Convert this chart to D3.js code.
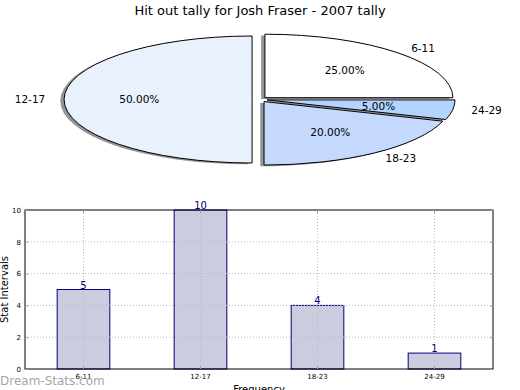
<!DOCTYPE html>
<html><head><meta charset="utf-8">
<script src="https://cdn.jsdelivr.net/npm/d3@7"></script>
<style>body{margin:0;background:#fff}svg{display:block;font-family:"DejaVu Sans",sans-serif}</style>
</head><body>
<script>
const categories = ["6-11","12-17","18-23","24-29"];
const values = [5,10,4,1];
const pieColors = ["#ffffff","#eaf1fe","#c5d9fe","#b3d4fe"];
const yTicks = [0,2,4,6,8,10];
const title = "Hit out tally for Josh Fraser - 2007 tally";

const W=520,H=390;
const svg=d3.select("body").append("svg").attr("width",W).attr("height",H);

svg.append("text").attr("x",260).attr("y",15).attr("text-anchor","middle")
  .attr("font-size",13).text(title);

// ---- pie ----
const cx=259.6, cy=99.5, rx=188, ry=63.5, explode=0.04;
const total=d3.sum(values);
let acc=0;
const wedges=values.map((v,i)=>{
  const t1=acc/total*2*Math.PI; acc+=v; const t2=acc/total*2*Math.PI;
  const mid=(t1+t2)/2;
  const ox=cx+explode*rx*Math.cos(mid), oy=cy-explode*ry*Math.sin(mid);
  return {i,v,t1,t2,mid,ox,oy};
});
const arc=d3.arc().innerRadius(0).outerRadius(1);
const gPie=svg.append("g");
wedges.forEach(w=>{
  gPie.append("path")
    .attr("d",arc({startAngle:Math.PI/2-w.t2,endAngle:Math.PI/2-w.t1}))
    .attr("transform",`translate(${w.ox-3.8},${w.oy+1.3}) scale(${rx},${ry})`)
    .attr("fill","#000").attr("fill-opacity",0.42).attr("stroke","none");
});
wedges.forEach(w=>{
  gPie.append("path")
    .attr("d",arc({startAngle:Math.PI/2-w.t2,endAngle:Math.PI/2-w.t1}))
    .attr("transform",`translate(${w.ox},${w.oy}) scale(${rx},${ry})`)
    .attr("fill",pieColors[w.i]).attr("stroke","#000").attr("stroke-width",1)
    .attr("vector-effect","non-scaling-stroke").attr("stroke-linejoin","round");
});
wedges.forEach(w=>{
  const c=Math.cos(w.mid), s=Math.sin(w.mid);
  gPie.append("text")
    .attr("x",w.ox+1.1*rx*c).attr("y",w.oy-1.1*ry*s).attr("dy","0.35em")
    .attr("text-anchor",c>0?"start":"end").attr("font-size",10.5)
    .text(categories[w.i]);
  gPie.append("text")
    .attr("x",w.ox+0.6*rx*c).attr("y",w.oy-0.6*ry*s).attr("dy","0.35em")
    .attr("text-anchor","middle").attr("font-size",10.5)
    .text((w.v/total*100).toFixed(2)+"%");
});

// ---- bars ----
const L=25,R=493,T=210,B=369;
const x=d3.scaleBand().domain(categories).range([L,R]).paddingInner(0.55).paddingOuter(0.275);
const y=d3.scaleLinear().domain([0,10]).range([B,T]);
const g=svg.append("g");
function grid(){
  yTicks.slice(1,-1).forEach(t=>{
    g.append("line").attr("x1",L).attr("x2",R).attr("y1",y(t)).attr("y2",y(t))
     .attr("stroke","#bbb").attr("stroke-dasharray","1,2");
  });
  categories.forEach(c=>{
    const xc=x(c)+x.bandwidth()/2;
    g.append("line").attr("x1",xc).attr("x2",xc).attr("y1",T).attr("y2",B)
     .attr("stroke","#bbb").attr("stroke-dasharray","1,2");
  });
}
g.selectAll("rect.bar").data(values).join("rect")
  .attr("x",(d,i)=>x(categories[i])).attr("width",x.bandwidth())
  .attr("y",d=>y(d)).attr("height",d=>B-y(d))
  .attr("fill","#ccccdf").attr("stroke","#000080").attr("stroke-width",1);
grid();
g.selectAll("text.val").data(values).join("text")
  .attr("x",(d,i)=>x(categories[i])+x.bandwidth()/2).attr("y",d=>y(d)-1)
  .attr("text-anchor","middle").attr("font-size",10).attr("fill","#000080")
  .text(d=>d);
g.append("rect").attr("x",L).attr("y",T).attr("width",R-L).attr("height",B-T)
  .attr("fill","none").attr("stroke","#000").attr("stroke-width",1);
const yAxis=g.append("g").attr("transform",`translate(${L},0)`)
  .call(d3.axisLeft(y).tickValues(yTicks).tickSize(-3).tickPadding(4));
yAxis.select(".domain").remove();
yAxis.selectAll("text").attr("font-size",7).attr("font-family","DejaVu Sans");
yAxis.selectAll("line").attr("stroke","#999");
const yAxisR=g.append("g").attr("transform",`translate(${R},0)`)
  .call(d3.axisRight(y).tickValues(yTicks).tickSize(-3).tickFormat(""));
yAxisR.select(".domain").remove(); yAxisR.selectAll("line").attr("stroke","#999");
const xAxis=g.append("g").attr("transform",`translate(0,${B})`)
  .call(d3.axisBottom(x).tickSize(-3).tickPadding(5));
xAxis.select(".domain").remove();
xAxis.selectAll("text").attr("font-size",7).attr("font-family","DejaVu Sans");
xAxis.selectAll("line").attr("stroke","#999");
const xAxisT=g.append("g").attr("transform",`translate(0,${T})`)
  .call(d3.axisTop(x).tickSize(-3).tickFormat(""));
xAxisT.select(".domain").remove(); xAxisT.selectAll("line").attr("stroke","#999");

svg.append("text").attr("transform",`translate(8,${(T+B)/2}) rotate(-90)`)
  .attr("text-anchor","middle").attr("font-size",10).text("Stat Intervals");
svg.append("text").attr("x",(L+R)/2).attr("y",393).attr("text-anchor","middle")
  .attr("font-size",10).text("Frequency");
svg.append("text").attr("x",0).attr("y",385).attr("font-size",12)
  .attr("fill","#999").attr("fill-opacity",0.9).text("Dream-Stats.com");
</script>
</body></html>
